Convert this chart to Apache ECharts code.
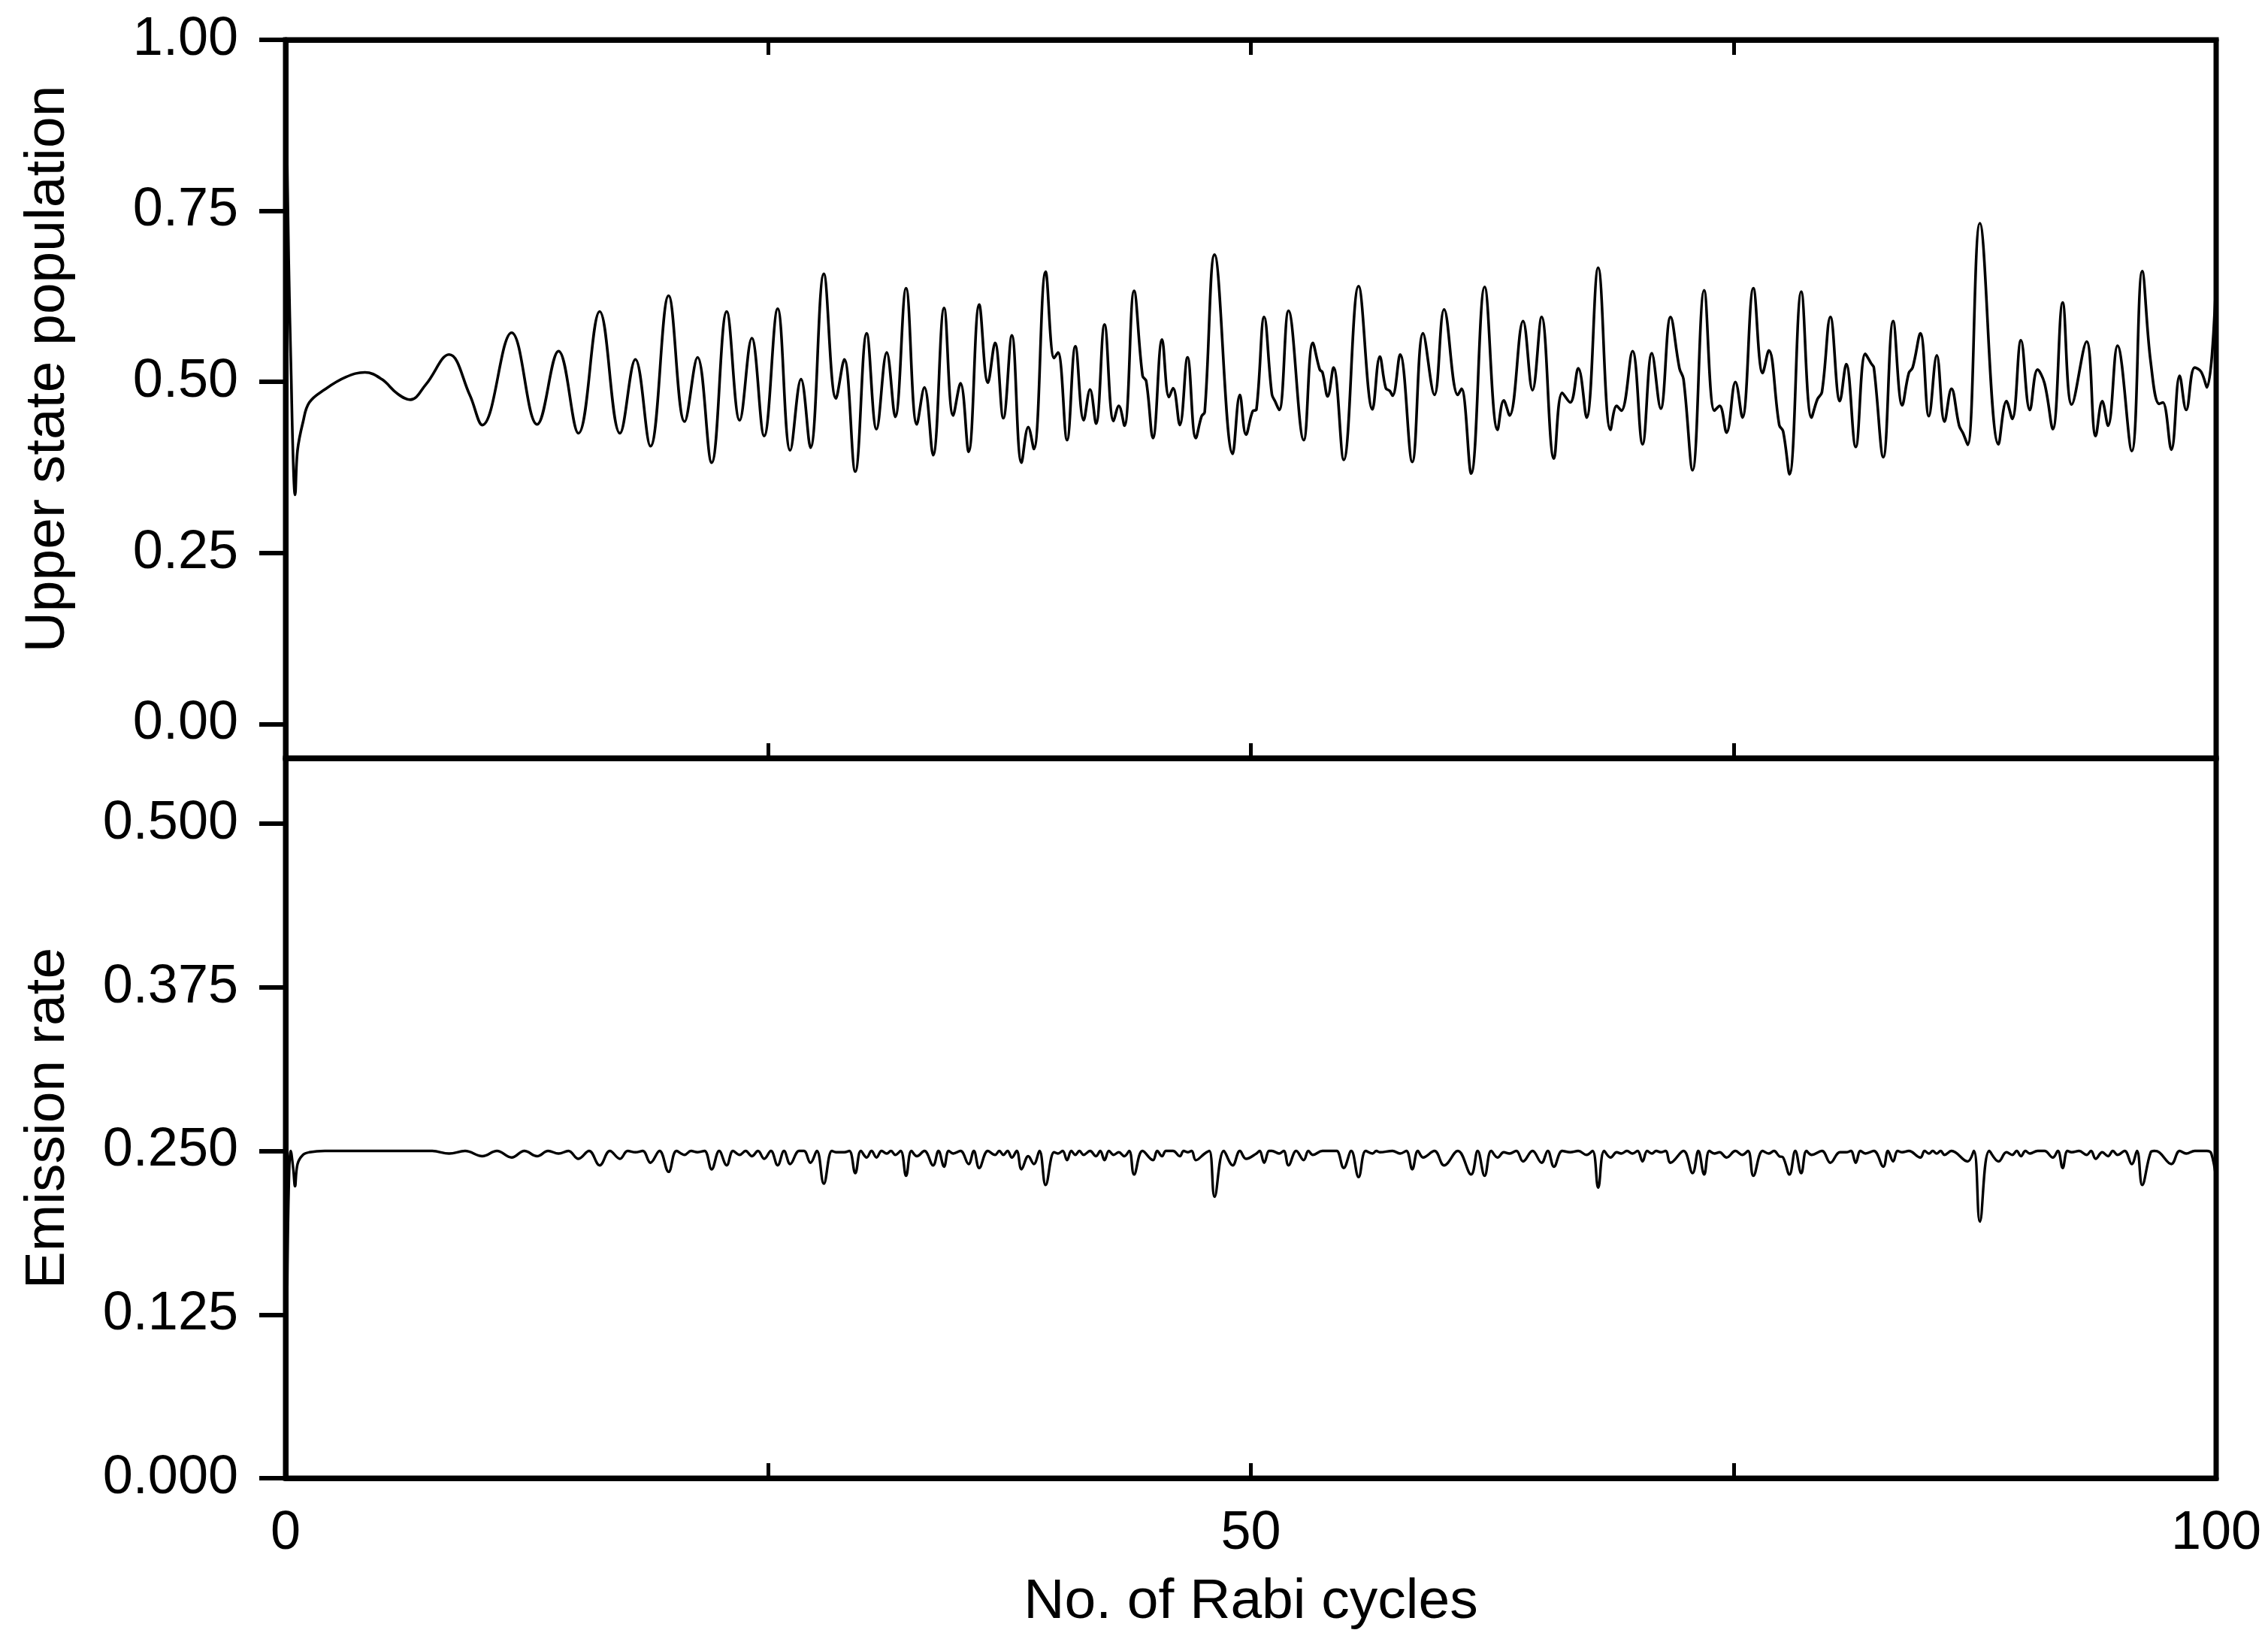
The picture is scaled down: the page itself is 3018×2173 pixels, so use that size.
<!DOCTYPE html>
<html>
<head>
<meta charset="utf-8">
<script src="https://cdn.jsdelivr.net/npm/echarts@6/dist/echarts.min.js"></script>
<style>
  html, body { margin: 0; padding: 0; background: #fff; }
  #chart { width: 3018px; height: 2173px; }
</style>
</head>
<body>
<div id="chart"></div>
<script>
  // upper state population, [rabi cycles, value]
  const population = [
    [0, 1.000], [0.16, 0.680], [0.29, 0.510], [0.40, 0.380], [0.49, 0.335], [0.62, 0.400], [0.90, 0.441],
    [1.23, 0.470], [2.03, 0.489], [3.11, 0.507], [4.11, 0.514], [4.98, 0.504], [5.79, 0.483], [6.46, 0.474],
    [7.26, 0.496], [8.47, 0.540], [9.54, 0.481], [10.19, 0.437], [11.71, 0.572], [13.03, 0.438], [14.14, 0.545],
    [15.17, 0.425], [16.27, 0.603], [17.32, 0.425], [18.12, 0.533], [18.90, 0.406], [19.84, 0.626],
    [20.67, 0.442], [21.34, 0.536], [22.07, 0.382], [22.85, 0.603], [23.52, 0.444], [24.15, 0.564], [24.79, 0.421],
    [25.49, 0.607], [26.14, 0.400], [26.70, 0.504], [27.19, 0.404], [27.88, 0.658], [28.51, 0.476], [28.94, 0.533],
    [29.51, 0.369], [30.10, 0.571], [30.61, 0.431], [31.14, 0.543], [31.58, 0.449], [32.14, 0.637], [32.70, 0.438],
    [33.09, 0.492], [33.54, 0.393], [34.11, 0.608], [34.58, 0.451], [34.96, 0.498], [35.38, 0.398], [35.93, 0.613],
    [36.38, 0.499], [36.75, 0.557], [37.18, 0.447], [37.62, 0.568], [38.12, 0.382], [38.47, 0.434], [38.76, 0.402],
    [39.37, 0.661], [39.81, 0.535], [40.01, 0.543],
    [40.48, 0.415], [40.91, 0.552], [41.34, 0.444], [41.67, 0.489], [41.98, 0.439], [42.42, 0.584], [42.89, 0.443],
    [43.16, 0.465], [43.45, 0.436], [43.95, 0.633], [44.39, 0.509], [44.58, 0.501], [44.93, 0.418], [45.40, 0.562],
    [45.76, 0.478], [45.97, 0.491], [46.32, 0.437], [46.72, 0.536], [47.15, 0.418], [47.45, 0.450], [47.61, 0.456],
    [48.12, 0.686], [49.06, 0.395], [49.43, 0.481], [49.75, 0.423], [50.09, 0.457], [50.29, 0.460], [50.69, 0.595],
    [51.09, 0.482], [51.25, 0.472], [51.47, 0.459], [51.95, 0.604], [52.74, 0.415], [53.21, 0.557], [53.57, 0.518],
    [53.71, 0.514], [53.98, 0.479], [54.28, 0.521], [54.81, 0.386], [55.58, 0.640], [56.30, 0.460], [56.68, 0.537],
    [56.99, 0.491], [57.19, 0.487], [57.34, 0.480], [57.73, 0.540], [58.36, 0.383], [58.92, 0.571], [59.51, 0.481],
    [60.01, 0.606],
    [60.72, 0.481], [60.91, 0.490], [61.41, 0.366], [62.11, 0.639], [62.78, 0.430], [63.10, 0.473], [63.40, 0.451],
    [64.10, 0.589], [64.59, 0.488], [65.06, 0.595], [65.70, 0.388], [66.13, 0.484], [66.54, 0.470], [66.96, 0.520],
    [67.39, 0.448], [67.99, 0.667], [68.63, 0.430], [68.95, 0.465], [69.19, 0.458], [69.77, 0.545], [70.29, 0.409],
    [70.77, 0.542], [71.23, 0.461], [71.74, 0.595], [72.20, 0.520], [72.41, 0.504], [72.88, 0.371], [73.48, 0.634],
    [74.01, 0.458], [74.28, 0.465], [74.64, 0.426], [75.10, 0.500], [75.46, 0.448], [76.03, 0.637], [76.51, 0.513],
    [76.83, 0.546], [77.37, 0.437], [77.57, 0.428], [77.90, 0.365], [78.51, 0.632], [79.04, 0.448], [79.35, 0.475],
    [79.58, 0.485], [80.02, 0.595],
    [80.51, 0.472], [80.84, 0.526], [81.33, 0.405], [81.83, 0.541], [82.13, 0.527], [82.27, 0.521], [82.76, 0.390],
    [83.27, 0.589], [83.74, 0.466], [84.08, 0.513], [84.28, 0.521], [84.68, 0.571], [85.12, 0.450], [85.53, 0.539],
    [85.93, 0.442], [86.29, 0.490], [86.69, 0.436], [86.89, 0.425], [87.13, 0.408], [87.76, 0.732], [88.73, 0.409],
    [89.14, 0.472], [89.44, 0.446], [89.89, 0.561], [90.35, 0.459], [90.75, 0.518], [91.11, 0.498], [91.54, 0.431],
    [92.05, 0.616], [92.52, 0.467], [93.29, 0.559], [93.76, 0.421], [94.10, 0.472], [94.40, 0.436], [94.89, 0.553],
    [95.63, 0.399], [96.17, 0.662], [96.61, 0.529], [97.05, 0.468], [97.24, 0.470], [97.68, 0.401], [98.11, 0.509],
    [98.45, 0.459], [98.89, 0.521], [99.22, 0.515], [99.52, 0.492], [100, 0.650]
  ];

  // emission rate, [rabi cycles, value] (flat tops at 0.25, dips)
  const emission = [
    [0, 0.000], [0.08, 0.130], [0.16, 0.218], [0.27, 0.250], [0.40, 0.236], [0.49, 0.223], [0.62, 0.240],
    [0.90, 0.247], [1.23, 0.249], [2.03, 0.250], [7.60, 0.250], [8.47, 0.248], [9.30, 0.250], [10.19, 0.246],
    [10.95, 0.250], [11.71, 0.245], [12.37, 0.250], [13.03, 0.246], [13.60, 0.250], [14.14, 0.248], [14.65, 0.250],
    [15.17, 0.244], [15.72, 0.250], [16.27, 0.239], [16.80, 0.250], [17.32, 0.244], [17.72, 0.250], [18.12, 0.249],
    [18.50, 0.250], [18.90, 0.241], [19.37, 0.250], [19.84, 0.234], [20.25, 0.250], [20.67, 0.247], [21.00, 0.250],
    [21.34, 0.249], [21.70, 0.250], [22.07, 0.236], [22.46, 0.250], [22.85, 0.239], [23.18, 0.250], [23.52, 0.247],
    [23.83, 0.250], [24.15, 0.246], [24.47, 0.250], [24.79, 0.244], [25.14, 0.250], [25.49, 0.239], [25.82, 0.250],
    [26.14, 0.240], [26.60, 0.250], [26.85, 0.250], [27.19, 0.241], [27.52, 0.250], [27.88, 0.225], [28.30, 0.250],
    [28.51, 0.249], [28.94, 0.249], [29.20, 0.250], [29.51, 0.233], [29.80, 0.250], [30.10, 0.245], [30.35, 0.250],
    [30.61, 0.245], [30.87, 0.250], [31.14, 0.248], [31.36, 0.250], [31.58, 0.247], [31.86, 0.250], [32.14, 0.231],
    [32.42, 0.250], [32.70, 0.246], [33.09, 0.250], [33.54, 0.239], [33.82, 0.250], [34.11, 0.238], [34.35, 0.250],
    [34.58, 0.248], [34.96, 0.250], [35.38, 0.240], [35.65, 0.250], [35.93, 0.237], [36.38, 0.250], [36.75, 0.247],
    [36.97, 0.250], [37.18, 0.247], [37.40, 0.250], [37.62, 0.245], [37.87, 0.250], [38.12, 0.236], [38.47, 0.246],
    [38.76, 0.240], [39.05, 0.250], [39.37, 0.224], [39.81, 0.249], [40.01, 0.248], [40.25, 0.250], [40.48, 0.243],
    [40.70, 0.250], [40.91, 0.247], [41.12, 0.250], [41.34, 0.247], [41.67, 0.250], [41.98, 0.246], [42.20, 0.250],
    [42.42, 0.243], [42.65, 0.250], [42.89, 0.247], [43.16, 0.249], [43.45, 0.246], [43.70, 0.250], [43.95, 0.232],
    [44.39, 0.250], [44.93, 0.243], [45.15, 0.250], [45.40, 0.246], [45.60, 0.250], [45.97, 0.250], [46.32, 0.246],
    [46.52, 0.250], [46.72, 0.249], [46.93, 0.250], [47.15, 0.243], [47.61, 0.248], [47.85, 0.250], [48.12, 0.215],
    [48.60, 0.250], [49.06, 0.239], [49.43, 0.250], [49.75, 0.244], [50.29, 0.248], [50.45, 0.250], [50.69, 0.241],
    [50.95, 0.250], [51.09, 0.250], [51.47, 0.248], [51.70, 0.250], [51.95, 0.239], [52.35, 0.250], [52.74, 0.243],
    [52.98, 0.250], [53.21, 0.247], [53.71, 0.250], [54.28, 0.250], [54.45, 0.250], [54.81, 0.237], [55.20, 0.250],
    [55.58, 0.230], [55.95, 0.250], [56.30, 0.248], [56.50, 0.250], [56.68, 0.249], [57.34, 0.250], [57.73, 0.248],
    [58.05, 0.250], [58.36, 0.236], [58.65, 0.250], [58.92, 0.245], [59.51, 0.250], [60.01, 0.239], [60.72, 0.250],
    [61.41, 0.232], [61.75, 0.250], [62.11, 0.231], [62.45, 0.250], [62.78, 0.245], [63.10, 0.249], [63.40, 0.248],
    [63.75, 0.250], [64.10, 0.242], [64.59, 0.250], [65.06, 0.241], [65.38, 0.250], [65.70, 0.238], [66.13, 0.250],
    [66.54, 0.249], [66.96, 0.250], [67.39, 0.247], [67.70, 0.250], [67.99, 0.222], [68.30, 0.250], [68.63, 0.245],
    [68.95, 0.249], [69.19, 0.248], [69.48, 0.250], [69.77, 0.248], [70.03, 0.250], [70.29, 0.242], [70.53, 0.250],
    [70.77, 0.248], [71.00, 0.250], [71.23, 0.249], [71.48, 0.250], [71.74, 0.241], [72.41, 0.250], [72.88, 0.233],
    [73.18, 0.250], [73.48, 0.232], [73.75, 0.250], [74.01, 0.248], [74.28, 0.249], [74.64, 0.245], [75.10, 0.250],
    [75.46, 0.247], [75.75, 0.250], [76.03, 0.231], [76.51, 0.250], [76.83, 0.248], [77.10, 0.250], [77.37, 0.246],
    [77.57, 0.245], [77.90, 0.232], [78.20, 0.250], [78.51, 0.233], [78.78, 0.250], [79.04, 0.247], [79.58, 0.250],
    [80.02, 0.241], [80.51, 0.249], [80.84, 0.249], [81.08, 0.250], [81.33, 0.241], [81.58, 0.250], [81.83, 0.248],
    [82.27, 0.250], [82.76, 0.238], [83.00, 0.250], [83.27, 0.242], [83.50, 0.250], [83.74, 0.249], [84.08, 0.250],
    [84.68, 0.245], [84.90, 0.250], [85.12, 0.248], [85.32, 0.250], [85.53, 0.248], [85.73, 0.250], [85.93, 0.247],
    [86.29, 0.250], [87.13, 0.242], [87.45, 0.250], [87.76, 0.196], [88.25, 0.250], [88.73, 0.242], [89.14, 0.249],
    [89.44, 0.247], [89.67, 0.250], [89.89, 0.246], [90.12, 0.250], [90.35, 0.248], [90.75, 0.250], [91.11, 0.250],
    [91.54, 0.245], [91.80, 0.250], [92.05, 0.237], [92.30, 0.250], [92.52, 0.249], [92.90, 0.250], [93.29, 0.247],
    [93.52, 0.250], [93.76, 0.244], [94.10, 0.249], [94.40, 0.246], [94.65, 0.250], [94.89, 0.247], [95.26, 0.250],
    [95.63, 0.240], [95.90, 0.250], [96.17, 0.224], [96.61, 0.249], [96.80, 0.250], [97.05, 0.249], [97.68, 0.240],
    [98.11, 0.250], [98.45, 0.248], [98.89, 0.250], [99.52, 0.250], [99.75, 0.248], [100, 0.228]
  ];

  const popTicks = [0, 0.25, 0.5, 0.75, 1];
  const rateTicks = [0, 0.125, 0.25, 0.375, 0.5];
  const cycleLabels = [0, 50, 100];

  const font = 'Liberation Sans, Arial, Helvetica, sans-serif';
  const black = '#000';

  let chart = echarts.init(document.getElementById('chart'));

  // x axis with inward ticks every 25 cycles
  function cycleAxis(grid, pos, labels) {
    return {
      gridIndex: grid,
      type: 'value',
      position: pos,
      min: 0,
      max: 100,
      interval: 25,
      axisLine: { show: true, onZero: false, lineStyle: { color: black, width: 7 } },
      axisTick: { show: true, inside: true, length: 20, lineStyle: { color: black, width: 5 } },
      axisLabel: labels ? {
        show: true,
        margin: 38,
        fontSize: 72,
        fontFamily: font,
        color: black,
        formatter: function (v) { return cycleLabels.indexOf(v) >= 0 ? String(v) : ''; }
      } : { show: false },
      splitLine: { show: false }
    };
  }

  // left y axis with outward ticks
  function valueAxis(grid, min, max, ticks, digits, name, shift) {
    return {
      gridIndex: grid,
      type: 'value',
      min: min,
      max: max,
      name: name,
      nameLocation: 'middle',
      nameGap: 278,
      // left padding moves the rotated title up the axis
      nameTextStyle: { fontSize: 75, fontFamily: font, color: black, padding: [0, 0, 0, shift] },
      axisLine: { show: true, onZero: false, lineStyle: { color: black, width: 7 } },
      axisTick: { show: true, inside: false, length: 35, customValues: ticks, lineStyle: { color: black, width: 6 } },
      axisLabel: {
        show: true,
        margin: 63,
        fontSize: 72,
        fontFamily: font,
        color: black,
        customValues: ticks,
        formatter: function (v) { return Number(v).toFixed(digits); }
      },
      splitLine: { show: false }
    };
  }

  let options = {
    backgroundColor: '#fff',
    animation: false,
    grid: [
      { left: 380, top: 53, width: 2569, height: 956, show: true, borderColor: black, borderWidth: 7 },
      { left: 380, top: 1009, width: 2569, height: 958, show: true, borderColor: black, borderWidth: 7 }
    ],
    xAxis: [
      cycleAxis(0, 'bottom', false),
      cycleAxis(0, 'top', false),
      Object.assign(cycleAxis(1, 'bottom', true), {
        name: 'No. of Rabi cycles',
        nameLocation: 'middle',
        nameGap: 128,
        nameTextStyle: { fontSize: 75, fontFamily: font, color: black }
      })
    ],
    yAxis: [
      valueAxis(0, -0.05, 1, popTicks, 2, 'Upper state population', 80),
      valueAxis(1, 0, 0.55, rateTicks, 3, 'Emission rate', 0)
    ],
    series: [
      {
        name: 'population',
        type: 'line',
        xAxisIndex: 0,
        yAxisIndex: 0,
        data: population,
        showSymbol: false,
        smooth: 0.4,
        lineStyle: { color: black, width: 3.6 }
      },
      {
        name: 'emission',
        type: 'line',
        xAxisIndex: 2,
        yAxisIndex: 1,
        data: emission,
        showSymbol: false,
        smooth: 0.4,
        lineStyle: { color: black, width: 3.4 }
      }
    ]
  };
  chart.setOption(options);
</script>
</body>
</html>
